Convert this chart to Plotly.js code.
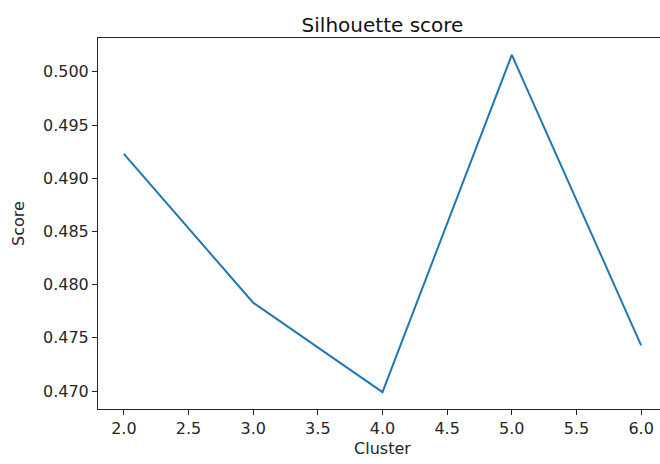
<!DOCTYPE html>
<html>
<head>
<meta charset="utf-8">
<script src="https://cdn.plot.ly/plotly-3.0.1.min.js"></script>
<style>
html, body { margin: 0; padding: 0; background: #fff; overflow: hidden; }
#chart { width: 668px; height: 464px; }
</style>
</head>
<body>
<div id="chart"></div>
<script>
const clusters = [2, 3, 4, 5, 6];
const scores = [0.4923, 0.4783, 0.4699, 0.5016, 0.4743];
const titleText = 'Silhouette score';
const xLabel = 'Cluster';
const yLabel = 'Score';

const xmin = Math.min(...clusters), xmax = Math.max(...clusters);
const ymin = Math.min(...scores), ymax = Math.max(...scores);
const xpad = (xmax - xmin) * 0.05, ypad = (ymax - ymin) * 0.05;

const font = 'DejaVu Sans, sans-serif';
const ink = '#262626';

const trace = {
  x: clusters,
  y: scores,
  type: 'scatter',
  mode: 'lines',
  line: { color: '#1f77b4', width: 2 },
  hoverinfo: 'skip'
};

const axisCommon = {
  showgrid: false,
  zeroline: false,
  showline: true,
  mirror: true,
  linecolor: ink,
  linewidth: 1,
  ticks: 'outside',
  ticklen: 5,
  tickwidth: 1,
  tickcolor: ink,
  tickfont: { family: font, size: 16, color: ink }
};

const layout = {
  width: 668,
  height: 464,
  margin: { l: 98, r: 1, t: 38, b: 55 },
  paper_bgcolor: '#fff',
  plot_bgcolor: '#fff',
  showlegend: false,
  title: {
    text: titleText,
    font: { family: font, size: 20, color: '#111' },
    x: 0.5, xref: 'paper', xanchor: 'center',
    y: 1, yref: 'paper', yanchor: 'bottom', pad: { b: 6 }
  },
  xaxis: Object.assign({}, axisCommon, {
    range: [xmin - xpad, xmax + xpad],
    tick0: 2, dtick: 0.5, tickformat: '.1f',
    title: { text: xLabel, font: { family: font, size: 16, color: ink }, standoff: 5 }
  }),
  yaxis: Object.assign({}, axisCommon, {
    range: [ymin - ypad, ymax + ypad],
    tick0: 0.47, dtick: 0.005, tickformat: '.3f',
    title: { text: yLabel, font: { family: font, size: 16, color: ink }, standoff: 14 }
  })
};

Plotly.newPlot('chart', [trace], layout, { displayModeBar: false, staticPlot: true });
</script>
</body>
</html>
